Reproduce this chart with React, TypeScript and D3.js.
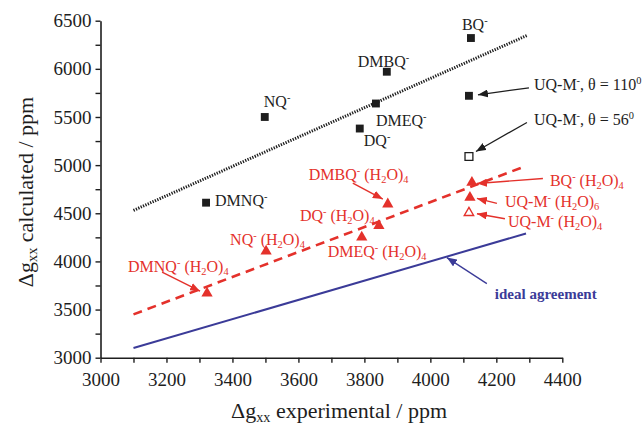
import { useEffect, useRef } from 'react';
import * as d3 from 'd3';

// bare radical anions (black squares)
const bareLabels = ['BQ^{-}', 'DMBQ^{-}', 'DMEQ^{-}', 'DQ^{-}', 'NQ^{-}', 'DMNQ^{-}', 'UQ-M^{-}, θ = 110^{0}', 'UQ-M^{-}, θ = 56^{0}'];
const bareExp = [4123, 3868, 3835, 3786, 3498, 3320, 4117, 4117];
const bareCalc = [6320, 5970, 5640, 5380, 5500, 4610, 5720, 5090];
const bareOpen = [false, false, false, false, false, false, false, true];

// hydrated anions (red triangles)
const hydLabels = ['BQ^{-} (H_{2}O)_{4}', 'UQ-M^{-} (H_{2}O)_{6}', 'UQ-M^{-} (H_{2}O)_{4}', 'DMBQ^{-} (H_{2}O)_{4}', 'DQ^{-} (H_{2}O)_{4}', 'DMEQ^{-} (H_{2}O)_{4}', 'NQ^{-} (H_{2}O)_{4}', 'DMNQ^{-} (H_{2}O)_{4}'];
const hydExp = [4126, 4120, 4117, 3871, 3844, 3792, 3502, 3323];
const hydCalc = [4820, 4665, 4505, 4595, 4370, 4250, 4105, 3670];
const hydOpen = [false, false, true, false, false, false, false, false];

// regression lines
const fitX = [3100, 4295];
const bareFitY = [4530, 6350];
const hydFitY = [3450, 4985];
const idealX = [3100, 4290];
const idealArrowAt = 4050;

const xTicks = [3000, 3200, 3400, 3600, 3800, 4000, 4200, 4400];
const yTicks = [3000, 3500, 4000, 4500, 5000, 5500, 6000, 6500];

// label layout: text offset from point, optional arrow [tailDx, tailDy, headDx, headDy]
const bareText = [[-9, -8], [-29, -5], [0, 22], [4, 17], [-1, -10], [9, 3], [65, -6], [65, -31]];
const bareArrow = [null, null, null, null, null, null, [60, -8, 9, -1], [58, -34, 7, -5]];
const hydText = [[78, 4], [35, 10], [39, 14], [-79, -24], [-79, -5], [-34, 20], [-36, -6], [-79, -21]];
const hydArrow = [[71, -4, 5, 1], [27, 6, 7, 1], [36, 6, 8, 1], [-35, -21, -5, -5], null, null, null, [-45, -21, -7, -2]];

const RED = '#e4312b';
const BLUE = '#3b3b98';
const INK = '#1e1e1e';
const FONT = '"Liberation Serif", "Times New Roman", serif';

function Rich({ s, x, y, fill, size, weight = 'normal', anchor = 'start', transform }: any) {
  const parts = s.split(/(\^\{[^}]*\}|_\{[^}]*\})/).filter((p: string) => p !== '');
  return (
    <text x={x} y={y} fill={fill} fontSize={size} fontWeight={weight} fontFamily={FONT} textAnchor={anchor} transform={transform}>
      {parts.map((p: string, i: number) => {
        if (p.startsWith('^{')) return <tspan key={i} baselineShift={size * 0.38} fontSize={size * 0.65}>{p.slice(2, -1)}</tspan>;
        if (p.startsWith('_{')) return <tspan key={i} baselineShift={-size * 0.18} fontSize={size * 0.65}>{p.slice(2, -1)}</tspan>;
        return <tspan key={i}>{p}</tspan>;
      })}
    </text>
  );
}

export default function App() {
  const width = 642;
  const height = 431;
  const x = d3.scaleLinear().domain([3000, 4400]).range([100.5, 562.3]);
  const y = d3.scaleLinear().domain([3000, 6500]).range([357.7, 20.7]);

  const gx = useRef<SVGGElement>(null);
  const gy = useRef<SVGGElement>(null);

  useEffect(() => {
    const ax = d3.select(gx.current);
    ax.selectAll('*').remove();
    ax.call(d3.axisBottom(x).tickValues(d3.range(3000, 4401, 100)).tickSize(5).tickSizeOuter(0)
      .tickFormat((d: any) => (xTicks.includes(d) ? String(d) : '')));
    const ay = d3.select(gy.current);
    ay.selectAll('*').remove();
    ay.call(d3.axisLeft(y).tickValues(d3.range(3000, 6501, 250)).tickSize(5).tickSizeOuter(0)
      .tickFormat((d: any) => (yTicks.includes(d) ? String(d) : '')));
    for (const g of [ax, ay]) {
      g.attr('font-family', FONT);
      g.select('.domain').attr('stroke', INK).attr('stroke-width', 1.6);
      g.selectAll('.tick line').attr('stroke', INK).attr('stroke-width', 1.4);
      g.selectAll('.tick text').attr('fill', INK).attr('font-size', 19).attr('font-family', FONT);
    }
    ax.selectAll('.tick text').attr('dy', '1.05em');
    ay.selectAll('.tick text').attr('x', -9);
  }, []);

  const sq = d3.symbol(d3.symbolSquare, 62)();
  const tri = d3.symbol(d3.symbolTriangle, 55)();
  const triOpen = d3.symbol(d3.symbolTriangle, 38)();

  const line = d3.line<number[]>().x(d => x(d[0])).y(d => y(d[1]));

  return (
    <svg width={width} height={height} style={{ position: 'absolute', left: 0, top: 0, background: '#fff' }}>
      <defs>
        {[['ah-black', INK], ['ah-red', RED], ['ah-blue', BLUE]].map(([id, c]) => (
          <marker key={id} id={id} viewBox="0 0 10 8" refX="10" refY="4" markerWidth="10" markerHeight="8" markerUnits="userSpaceOnUse" orient="auto">
            <path d="M0,0 L10,4 L0,8 z" fill={c} />
          </marker>
        ))}
      </defs>

      {/* lines */}
      <path d={line([[fitX[0], bareFitY[0]], [fitX[1], bareFitY[1]]]) as string} stroke={INK} strokeWidth={3} strokeDasharray="1.3 1.3" fill="none" />
      <path d={line([[fitX[0], hydFitY[0]], [fitX[1] - 10, hydFitY[1]]]) as string} stroke={RED} strokeWidth={2.6} strokeDasharray="9 6" fill="none" />
      <path d={line([[idealX[0], idealX[0]], [idealX[1], idealX[1]]]) as string} stroke={BLUE} strokeWidth={2} fill="none" />

      {/* axes */}
      <g ref={gx} transform={`translate(0,${y(3000)})`} />
      <g ref={gy} transform={`translate(${x(3000)},0)`} />

      {/* bare markers */}
      {bareExp.map((e, i) => (
        <path key={'b' + i} d={sq as string} transform={`translate(${x(e)},${y(bareCalc[i])})`}
          fill={bareOpen[i] ? '#fff' : INK} stroke={INK} strokeWidth={bareOpen[i] ? 1.3 : 0} />
      ))}
      {hydExp.map((e, i) => (
        <path key={'h' + i} d={(hydOpen[i] ? triOpen : tri) as string} transform={`translate(${x(e)},${y(hydCalc[i])})`}
          fill={hydOpen[i] ? '#fff' : RED} stroke={RED} strokeWidth={hydOpen[i] ? 1.4 : 0} />
      ))}

      {/* bare labels */}
      {bareLabels.map((l, i) => {
        const px = x(bareExp[i]);
        const py = y(bareCalc[i]);
        const a = bareArrow[i];
        return (
          <g key={'bl' + i}>
            {a && <line x1={px + a[0]} y1={py + a[1]} x2={px + a[2]} y2={py + a[3]} stroke={INK} strokeWidth={1.3} markerEnd="url(#ah-black)" />}
            <Rich s={l} x={px + bareText[i][0]} y={py + bareText[i][1]} fill={INK} size={16} />
          </g>
        );
      })}

      {/* hydrated labels */}
      {hydLabels.map((l, i) => {
        const px = x(hydExp[i]);
        const py = y(hydCalc[i]);
        const a = hydArrow[i];
        return (
          <g key={'hl' + i}>
            {a && <line x1={px + a[0]} y1={py + a[1]} x2={px + a[2]} y2={py + a[3]} stroke={RED} strokeWidth={1.4} markerEnd="url(#ah-red)" />}
            <Rich s={l} x={px + hydText[i][0]} y={py + hydText[i][1]} fill={RED} size={16} />
          </g>
        );
      })}

      {/* ideal agreement */}
      <line x1={x(idealArrowAt) + 40} y1={y(idealArrowAt) + 27} x2={x(idealArrowAt)} y2={y(idealArrowAt) + 1}
        stroke={BLUE} strokeWidth={1.3} markerEnd="url(#ah-blue)" />
      <text x={x(idealArrowAt) + 48} y={y(idealArrowAt) + 42} fill={BLUE} fontSize={15} fontWeight="bold" fontFamily={FONT}>ideal agreement</text>

      {/* axis titles */}
      <Rich s="Δg_{xx} experimental / ppm" x={339} y={418} fill={INK} size={22} anchor="middle" />
      <Rich s="Δg_{xx} calculated / ppm" x={0} y={0} fill={INK} size={22} anchor="middle" transform="translate(33,192) rotate(-90)" />
    </svg>
  );
}
